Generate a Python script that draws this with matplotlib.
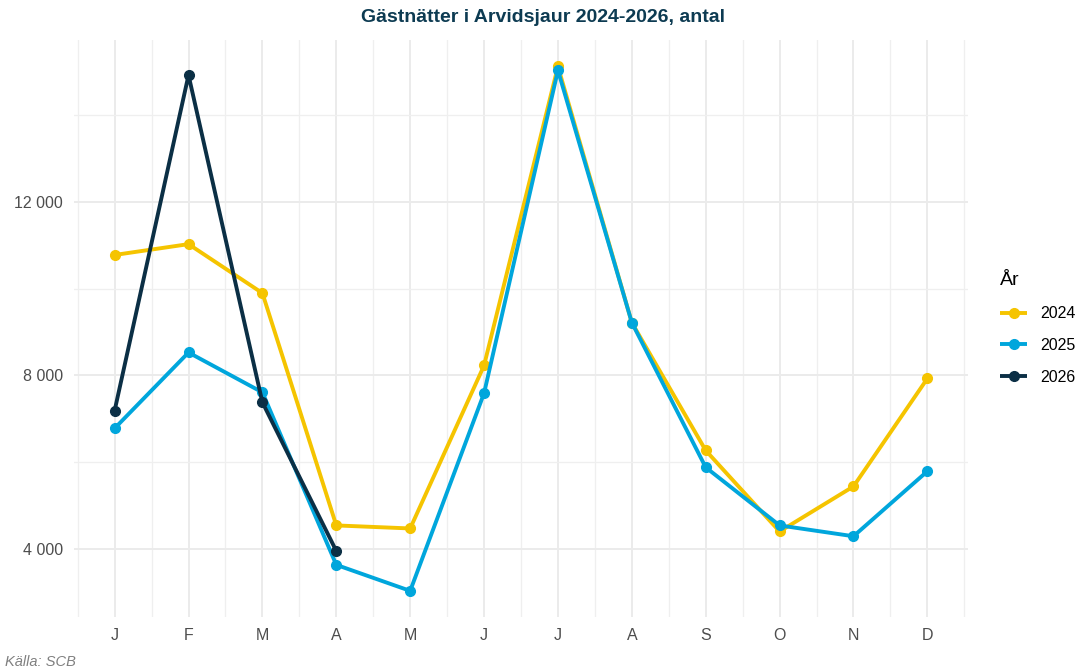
import numpy as np
import matplotlib.pyplot as plt
from matplotlib.ticker import FixedLocator, FuncFormatter

plt.rcParams['font.family'] = ['Liberation Sans', 'DejaVu Sans']

# Data
manader = ["J", "F", "M", "A", "M", "J", "J", "A", "S", "O", "N", "D"]
ar_2024 = [10780, 11030, 9900, 4540, 4470, 8230, 15130, 9220, 6270, 4400, 5440, 7930]
ar_2025 = [6780, 8530, 7610, 3630, 3030, 7590, 15040, 9220, 5880, 4540, 4290, 5790]
ar_2026 = [7190, 14930, 7380, 3950]

farger = {"2024": "#f5c400", "2025": "#00a6dc", "2026": "#0b2f45"}

fig = plt.figure(figsize=(10.86, 6.71), dpi=100)
ax = fig.add_axes([74/1086, 1 - 617/671, (968 - 74)/1086, (617 - 40)/671])

x_all = np.arange(1, 13)
for namn, serie in [("2024", ar_2024), ("2025", ar_2025), ("2026", ar_2026)]:
    xs = x_all[:len(serie)]
    ax.plot(xs, serie, color=farger[namn], lw=2.8, marker="o", ms=7,
            label=namn, solid_capstyle="butt", zorder=3)

ax.set_xlim(0.45, 12.55)
ax.set_ylim(2427, 15740)

ax.xaxis.set_major_locator(FixedLocator(x_all))
ax.xaxis.set_minor_locator(FixedLocator(np.arange(0.5, 13, 1.0)))
ax.set_xticklabels(manader)
ax.yaxis.set_major_locator(FixedLocator([4000, 8000, 12000]))
ax.yaxis.set_minor_locator(FixedLocator([2000, 6000, 10000, 14000]))
ax.yaxis.set_major_formatter(FuncFormatter(lambda v, p: f"{int(v):,}".replace(",", " ")))

ax.grid(which="major", color="#ebebeb", lw=1.4, zorder=0)
ax.grid(which="minor", color="#efefef", lw=0.9, zorder=0)
ax.tick_params(which="both", length=0, labelsize=11.5, colors="#4d4d4d", pad=8)
for s in ax.spines.values():
    s.set_visible(False)

fig.text(0.5, 1 - 17/671, "Gästnätter i Arvidsjaur 2024-2026, antal", ha="center",
         va="center", fontsize=14, fontweight="bold", color="#0d3b52")
fig.text(5/1086, 1 - 662/671, "Källa: SCB", ha="left", va="center",
         fontsize=10.5, style="italic", color="#808080")

leg = ax.legend(title="År", loc="center left", bbox_to_anchor=(1.02, 0.50),
                frameon=False, fontsize=11.5, title_fontsize=14, handlelength=1.7,
                labelspacing=1.05, handletextpad=0.8)
leg._legend_box.align = "left"

fig.savefig("out.png", dpi=100)
